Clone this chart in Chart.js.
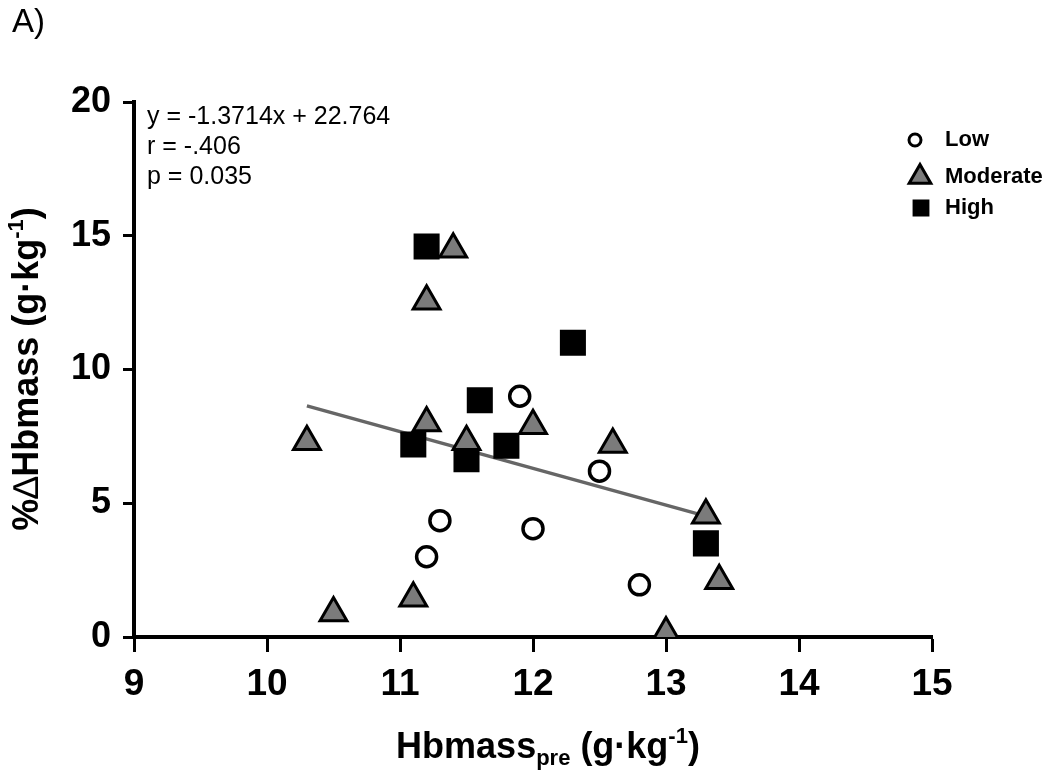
<!DOCTYPE html>
<html>
<head>
<meta charset="utf-8">
<script src="https://cdn.jsdelivr.net/npm/chart.js@4/dist/chart.umd.min.js"></script>
<style>
  html, body { margin: 0; padding: 0; background: #fff; }
  #wrap { width: 1062px; height: 780px; }
</style>
</head>
<body>
<div id="wrap"><canvas id="hbChart" width="1062" height="780"></canvas></div>
<script>
// values
const lowX = [11.9, 12.5, 11.3, 12.0, 11.2, 12.8]
const lowY = [9.0, 6.2, 4.35, 4.05, 3.0, 1.95]

const moderateX = [11.4, 11.2, 10.3, 11.2, 11.5, 12.0, 12.6, 13.3, 13.4, 10.5, 11.1, 13.0]
const moderateY = [14.5, 12.55, 7.3, 8.0, 7.3, 7.9, 7.2, 4.55, 2.1, 0.9, 1.45, 0.15]

const highX = [11.2, 12.3, 11.6, 11.1, 11.5, 11.8, 13.3]
const highY = [14.6, 11.0, 8.85, 7.2, 6.65, 7.15, 3.5]

// regression line ends
const fitX = [10.3, 13.3]
const fitY = [8.64, 4.52]

const xTicks = [9, 10, 11, 12, 13, 14, 15]
const yTicks = [0, 5, 10, 15, 20]

const statsText = ['y = -1.3714x + 22.764', 'r = -.406', 'p = 0.035']
const groupNames = ['Low', 'Moderate', 'High']

const FONT = '"Liberation Sans", Arial, sans-serif'

const toPoints = (xs, ys) => xs.map((x, i) => ({ x, y: ys[i] }))

const lowStyle = { pointStyle: 'circle', radius: 10, backgroundColor: '#ffffff', borderColor: '#000', borderWidth: 3.5 }
const modStyle = { pointStyle: 'triangle', radius: 15.5, backgroundColor: '#7b7b7b', borderColor: '#000', borderWidth: 3 }
const highStyle = { pointStyle: 'rect', radius: 17, backgroundColor: '#000', borderColor: '#000', borderWidth: 2 }

const dataset = (label, xs, ys, st, order) => ({
  label,
  data: toPoints(xs, ys),
  pointStyle: st.pointStyle,
  pointRadius: st.radius,
  pointHoverRadius: st.radius,
  pointBackgroundColor: st.backgroundColor,
  pointBorderColor: st.borderColor,
  pointBorderWidth: st.borderWidth,
  order
})

// extra text: panel letter, stats, legend, axis titles with sub/superscripts
const decorations = {
  id: 'decorations',
  afterDraw (chart) {
    const ctx = chart.ctx
    ctx.save()
    ctx.fillStyle = '#000'
    ctx.textBaseline = 'middle'
    ctx.textAlign = 'left'

    ctx.font = '33px ' + FONT
    ctx.fillText('A)', 12, 23)

    ctx.font = '25px ' + FONT
    statsText.forEach((t, i) => ctx.fillText(t, 147, 117 + i * 30))

    // legend
    const legendRows = [
      { st: { ...lowStyle, radius: 6, borderWidth: 3 }, x: 915, y: 140 },
      { st: { ...modStyle, radius: 12.5, borderWidth: 3 }, x: 920, y: 177 },
      { st: { ...highStyle, radius: 10.5 }, x: 921, y: 208 }
    ]
    legendRows.forEach((row, i) => {
      ctx.fillStyle = row.st.backgroundColor
      ctx.strokeStyle = row.st.borderColor
      ctx.lineWidth = row.st.borderWidth
      Chart.helpers.drawPoint(ctx, { pointStyle: row.st.pointStyle, radius: row.st.radius, rotation: 0, borderWidth: row.st.borderWidth }, row.x, row.y)
      ctx.fillStyle = '#000'
      ctx.font = 'bold 22px ' + FONT
      ctx.fillText(groupNames[i], 945, row.y)
    })

    const drawRich = (parts, cx, cy) => {
      let total = 0
      parts.forEach(p => { ctx.font = p.font; total += ctx.measureText(p.t).width })
      let x = cx - total / 2
      parts.forEach(p => {
        ctx.font = p.font
        ctx.fillText(p.t, x, cy + (p.dy || 0))
        x += ctx.measureText(p.t).width
      })
    }
    const big = 'bold 36px ' + FONT
    const small = 'bold 22px ' + FONT

    drawRich([
      { t: 'Hbmass', font: big },
      { t: 'pre', font: small, dy: 11 },
      { t: ' (g·kg', font: big },
      { t: '-1', font: small, dy: -11 },
      { t: ')', font: big }
    ], 548, 748)

    ctx.translate(28, 369)
    ctx.rotate(-Math.PI / 2)
    drawRich([
      { t: '%', font: big },
      { t: '∆', font: '36px ' + FONT },
      { t: 'Hbmass (g·kg', font: big },
      { t: '-1', font: small, dy: -11 },
      { t: ')', font: big }
    ], 0, 0)

    ctx.restore()
  }
}

const axisCommon = {
  grid: { drawOnChartArea: false, drawTicks: true, color: '#000', tickWidth: 3 },
  border: { display: true, color: '#000', width: 4 },
  title: { display: false }
}

new Chart(document.getElementById('hbChart'), { // eslint-disable-line
  type: 'scatter',
  data: {
    datasets: [
      dataset(groupNames[0], lowX, lowY, lowStyle, 1),
      dataset(groupNames[1], moderateX, moderateY, modStyle, 2),
      dataset(groupNames[2], highX, highY, highStyle, 3),
      {
        type: 'line',
        label: 'fit',
        data: toPoints(fitX, fitY),
        showLine: true,
        borderColor: '#666666',
        borderWidth: 3.5,
        pointRadius: 0,
        fill: false,
        order: 4
      }
    ]
  },
  plugins: [decorations],
  options: {
    responsive: false,
    animation: false,
    layout: { padding: { left: 0, right: 130, top: 102, bottom: 0 } },
    plugins: {
      legend: { display: false },
      tooltip: { enabled: false },
      title: { display: false }
    },
    scales: {
      x: {
        ...axisCommon,
        type: 'linear',
        min: 9,
        max: 15,
        grid: { ...axisCommon.grid, tickLength: 15 },
        afterBuildTicks: scale => { scale.ticks = xTicks.map(v => ({ value: v })) },
        afterFit: scale => { scale.height = 143 },
        ticks: {
          color: '#000',
          padding: 11,
          maxRotation: 0,
          font: { family: FONT, size: 37, weight: 'bold' }
        }
      },
      y: {
        ...axisCommon,
        type: 'linear',
        min: 0,
        max: 20,
        grid: { ...axisCommon.grid, tickLength: 11 },
        afterBuildTicks: scale => { scale.ticks = yTicks.map(v => ({ value: v })) },
        afterFit: scale => { scale.width = 134 },
        ticks: {
          color: '#000',
          padding: 12,
          font: { family: FONT, size: 36, weight: 'bold' }
        }
      }
    }
  }
})
</script>
</body>
</html>
